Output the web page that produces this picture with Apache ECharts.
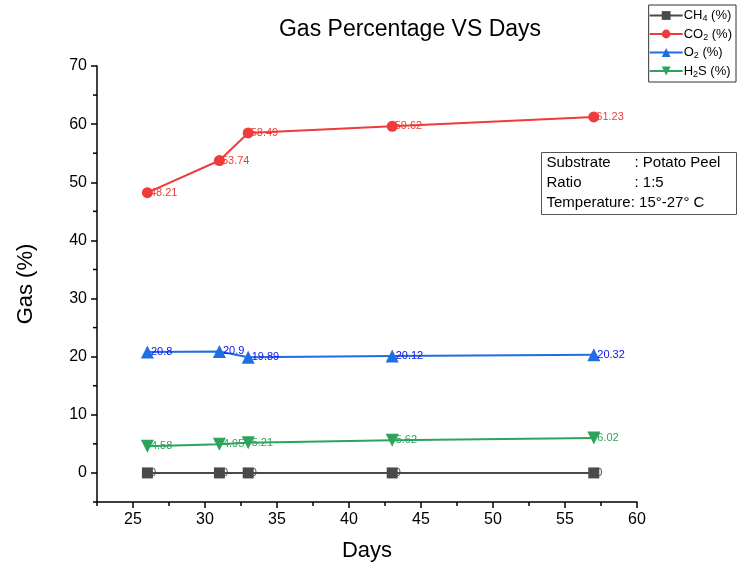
<!DOCTYPE html>
<html>
<head>
<meta charset="utf-8">
<script src="https://cdn.jsdelivr.net/npm/echarts@6/dist/echarts.min.js"></script>
<style>
  html, body { margin: 0; padding: 0; background: #fff; }
  #chart { width: 737px; height: 569px; }
</style>
</head>
<body>
<div id="chart"></div>
<script>
// days on x axis
const days = [26, 31, 33, 43, 57];
const ch4 = [0, 0, 0, 0, 0];
const co2 = [48.21, 53.74, 58.49, 59.62, 61.23];
const o2 = [20.8, 20.9, 19.89, 20.12, 20.32];
const h2s = [4.58, 4.95, 5.21, 5.62, 6.02];
const xTicks = [25, 30, 35, 40, 45, 50, 55, 60];
const xMinor = [22.5, 27.5, 32.5, 37.5, 42.5, 47.5, 52.5, 57.5];
const yTicks = [0, 10, 20, 30, 40, 50, 60, 70];
const yMinor = [-5, 5, 15, 25, 35, 45, 55, 65];

const font = 'Liberation Sans, Arial, sans-serif';
const chart = echarts.init(document.getElementById('chart'));

function pts(ys) {
  return days.map((d, i) => [d, ys[i]]);
}

function mkSeries(name, ys, color, symbol, size, labelColor) {
  return {
    name: name,
    type: 'line',
    data: pts(ys),
    symbol: symbol,
    symbolSize: size,
    symbolRotate: 0,
    lineStyle: { color: color, width: 2 },
    itemStyle: { color: color },
    label: {
      show: true,
      position: 'right',
      distance: 0,
      offset: [-3, 0],
      color: labelColor,
      fontSize: 11,
      fontFamily: font
    },
    emphasis: { disabled: true },
    z: 3
  };
}

const h2sSeries = mkSeries('H2S', h2s, '#2ea35d', 'triangle', 13, '#2ea35d');
h2sSeries.symbolRotate = 180;

const richLeg = {
  a: { fontSize: 13, fontFamily: font, color: '#000' },
  s: { fontSize: 9, fontFamily: font, color: '#000', padding: [7, 0, 0, 0] }
};

const option = {
  backgroundColor: '#fff',
  animation: false,
  title: {
    text: 'Gas Percentage VS Days',
    left: 405,
    textAlign: 'center',
    top: 13,
    textStyle: { fontSize: 23, fontWeight: 'normal', fontFamily: font, color: '#000' }
  },
  legend: {
    orient: 'vertical',
    right: 1,
    top: 5,
    padding: [4, 4, 3, 0],
    itemGap: 4,
    itemWidth: 33,
    itemHeight: 11,
    borderColor: '#333',
    borderWidth: 1,
    borderRadius: 0,
    data: ['CH4', 'CO2', 'O2', 'H2S'],
    formatter: function (n) {
      if (n === 'CH4') return '{a|CH}{s|4}{a| (%)}';
      if (n === 'CO2') return '{a|CO}{s|2}{a| (%)}';
      if (n === 'O2') return '{a|O}{s|2}{a| (%)}';
      return '{a|H}{s|2}{a|S (%)}';
    },
    textStyle: { rich: richLeg, padding: [0, 0, 0, -4] }
  },
  grid: { left: 97, right: 100, top: 66, bottom: 67 },
  xAxis: {
    type: 'value',
    min: 22.5,
    max: 60,
    name: 'Days',
    nameLocation: 'middle',
    nameGap: 38,
    nameTextStyle: { fontSize: 22, fontFamily: font, color: '#000' },
    axisLine: { show: true, onZero: false, lineStyle: { color: '#000', width: 1.5 } },
    axisTick: { show: true, customValues: xTicks, length: 6, inside: false, lineStyle: { color: '#000', width: 1.5 } },
    axisLabel: { customValues: xTicks, fontSize: 16, fontFamily: font, color: '#000', margin: 10 },
    splitLine: { show: false }
  },
  yAxis: {
    type: 'value',
    min: -5,
    max: 70,
    name: 'Gas (%)',
    nameLocation: 'middle',
    nameGap: 60,
    nameTextStyle: { fontSize: 22, fontFamily: font, color: '#000' },
    axisLine: { show: true, onZero: false, lineStyle: { color: '#000', width: 1.5 } },
    axisTick: { show: true, customValues: yTicks, length: 6, lineStyle: { color: '#000', width: 1.5 } },
    axisLabel: { customValues: yTicks, fontSize: 16, fontFamily: font, color: '#000', margin: 10 },
    splitLine: { show: false }
  },
  graphic: [
    // minor ticks, positioned after first render
    ...xMinor.map(v => ({ type: 'line', id: 'xm' + v, shape: { x1: 0, y1: 0, x2: 0, y2: 4 }, style: { stroke: '#000', lineWidth: 1.5 } })),
    ...yMinor.map(v => ({ type: 'line', id: 'ym' + v, shape: { x1: 0, y1: 0, x2: -4, y2: 0 }, style: { stroke: '#000', lineWidth: 1.5 } })),
    {
      type: 'group',
      left: 541,
      top: 152,
      children: [
        { type: 'rect', shape: { x: 0, y: 0, width: 195, height: 62 }, style: { fill: '#fff', stroke: '#555', lineWidth: 1 } },
        { type: 'text', x: 5, y: 3, style: { text: 'Substrate', font: '15px ' + font, fill: '#000' } },
        { type: 'text', x: 93, y: 3, style: { text: ': Potato Peel', font: '15px ' + font, fill: '#000' } },
        { type: 'text', x: 5, y: 23, style: { text: 'Ratio', font: '15px ' + font, fill: '#000' } },
        { type: 'text', x: 93, y: 23, style: { text: ': 1:5', font: '15px ' + font, fill: '#000' } },
        { type: 'text', x: 5, y: 43, style: { text: 'Temperature: 15°-27° C', font: '15px ' + font, fill: '#000' } }
      ]
    }
  ],
  series: [
    mkSeries('CH4', ch4, '#4a4a4a', 'rect', 11, '#4a4a4a'),
    mkSeries('CO2', co2, '#ee3b3b', 'circle', 11, '#ee3b3b'),
    mkSeries('O2', o2, '#1f6fe0', 'triangle', 13, '#1010ee'),
    h2sSeries
  ]
};

chart.setOption(option);

// place minor ticks using the axis scales
const origin = chart.convertToPixel({ gridIndex: 0 }, [22.5, -5]);
chart.setOption({
  graphic: [
    ...xMinor.map(v => ({ id: 'xm' + v, x: chart.convertToPixel({ gridIndex: 0 }, [v, -5])[0], y: origin[1] })),
    ...yMinor.map(v => ({ id: 'ym' + v, x: origin[0], y: chart.convertToPixel({ gridIndex: 0 }, [22.5, v])[1] }))
  ]
});
</script>
</body>
</html>
